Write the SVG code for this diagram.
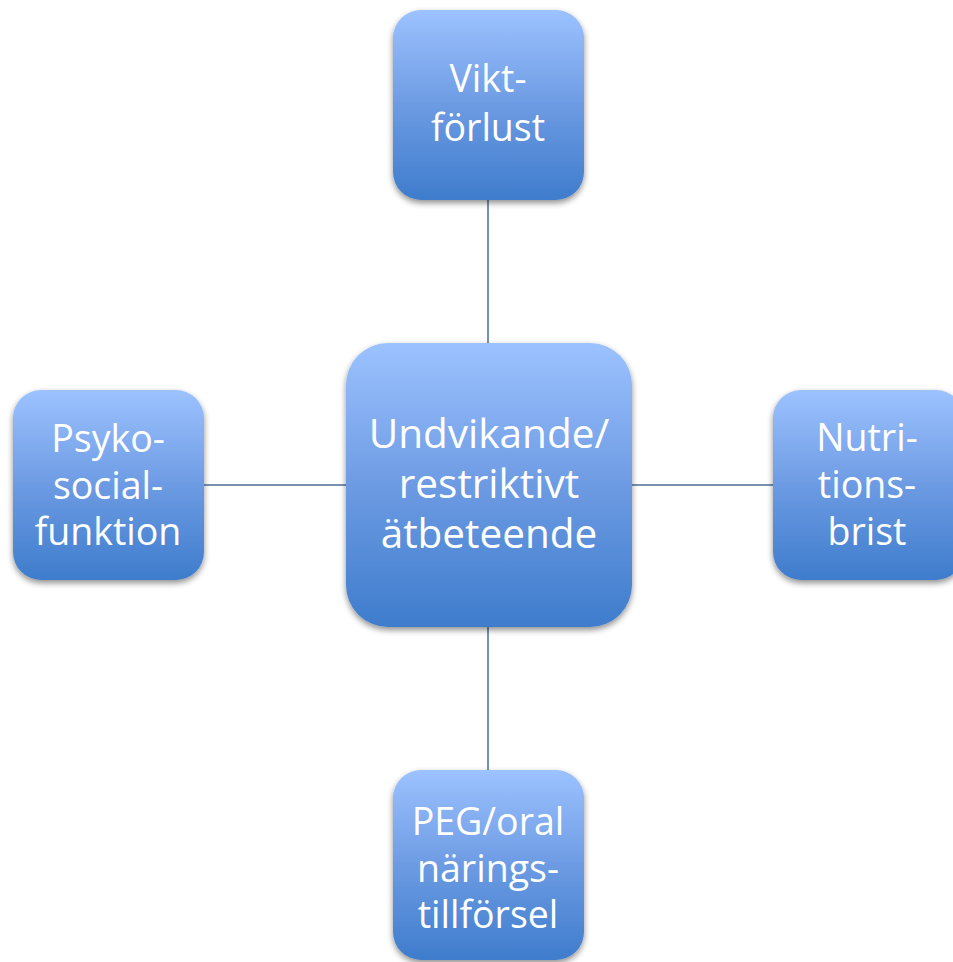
<svg xmlns="http://www.w3.org/2000/svg" width="953" height="962" viewBox="0 0 953 962">
<defs>
<linearGradient id="g" x1="0" y1="0" x2="0" y2="1">
<stop offset="0" stop-color="#9cc2ff"/>
<stop offset="0.5" stop-color="#6d9be3"/>
<stop offset="1" stop-color="#3e7ccc"/>
</linearGradient>
<filter id="sh" x="-10%" y="-10%" width="120%" height="125%">
<feGaussianBlur in="SourceAlpha" stdDeviation="3"/>
<feOffset dx="0" dy="3" result="b"/>
<feComponentTransfer><feFuncA type="linear" slope="0.45"/></feComponentTransfer>
<feMerge><feMergeNode/><feMergeNode in="SourceGraphic"/></feMerge>
</filter>
</defs>
<style>
.box{fill:url(#g);filter:url(#sh)}
.t{font-family:"Open Sans","Liberation Sans",sans-serif;font-size:37.5px;fill:#ffffff;text-anchor:middle}
.tc{font-size:40.5px}
.c{stroke:#4a6d99;stroke-width:1.5;fill:none}
</style>
<rect width="953" height="962" fill="#ffffff"/>
<g id="connectors">
<line class="c" x1="488" y1="200" x2="488" y2="343"/>
<line class="c" x1="488" y1="627" x2="488" y2="770"/>
<line class="c" x1="204" y1="485" x2="346" y2="485"/>
<line class="c" x1="632" y1="485" x2="773" y2="485"/>
</g>
<g id="top">
<rect class="box" x="393" y="10" width="191" height="190" rx="28"/>
<text class="t" x="488" y="92">Vikt-</text>
<text class="t" x="488" y="141">förlust</text>
</g>
<g id="center">
<rect class="box" x="346" y="343" width="286" height="284" rx="42"/>
<text class="t tc" x="489" y="448">Undvikande/</text>
<text class="t tc" x="489" y="498">restriktivt</text>
<text class="t tc" x="489" y="548">ätbeteende</text>
</g>
<g id="left">
<rect class="box" x="13" y="390" width="191" height="190" rx="28"/>
<text class="t" x="108" y="452">Psyko-</text>
<text class="t" x="108" y="499">social-</text>
<text class="t" x="108" y="545">funktion</text>
</g>
<g id="right">
<rect class="box" x="773" y="390" width="191" height="190" rx="28"/>
<text class="t" x="867" y="451">Nutri-</text>
<text class="t" x="867" y="498">tions-</text>
<text class="t" x="867" y="545">brist</text>
</g>
<g id="bottom">
<rect class="box" x="393" y="770" width="191" height="190" rx="28"/>
<text class="t" x="488" y="835">PEG/oral</text>
<text class="t" x="488" y="882">närings-</text>
<text class="t" x="488" y="928">tillförsel</text>
</g>
</svg>
